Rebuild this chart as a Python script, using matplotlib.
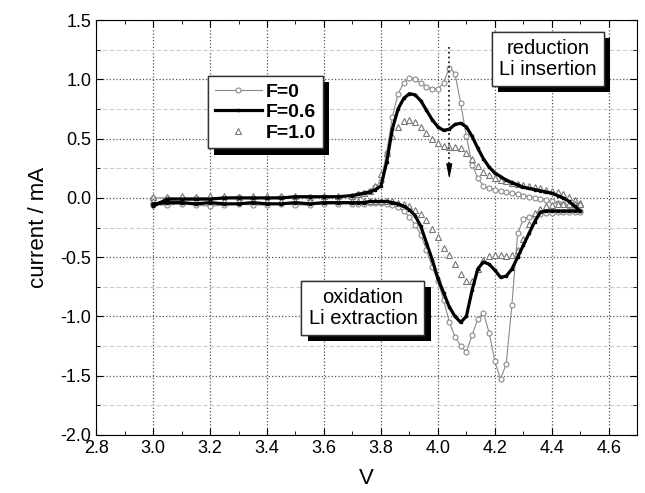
import matplotlib
matplotlib.use("Agg")
import matplotlib.pyplot as plt
import matplotlib.patheffects as pe
from matplotlib.ticker import MultipleLocator
import numpy as np

plt.rcParams['font.family'] = ['Liberation Sans', 'DejaVu Sans']

# voltage sample points (V), shared by both sweep directions
volt = [3.00, 3.05, 3.10, 3.15, 3.20, 3.25, 3.30, 3.35, 3.40, 3.45, 3.50, 3.55, 3.60, 3.65,
        3.70, 3.72, 3.74, 3.76, 3.78, 3.80, 3.82, 3.84, 3.86, 3.88,
        3.90, 3.92, 3.94, 3.96, 3.98, 4.00, 4.02, 4.04, 4.06, 4.08,
        4.10, 4.12, 4.14, 4.16, 4.18, 4.20, 4.22, 4.24, 4.26, 4.28,
        4.30, 4.32, 4.34, 4.36, 4.38, 4.40, 4.42, 4.44, 4.46, 4.48, 4.50]

# current (mA), forward sweep (upper branch)
f0_up = [0.00, 0.00, 0.00, 0.00, 0.00, 0.00, 0.01, 0.00, 0.00, 0.01, 0.01, 0.01, 0.01, 0.01,
         0.02, 0.03, 0.04, 0.06, 0.09, 0.14, 0.38, 0.68, 0.88, 0.97,
         1.01, 1.00, 0.97, 0.94, 0.92, 0.92, 0.97, 1.10, 1.05, 0.80,
         0.52, 0.28, 0.17, 0.10, 0.08, 0.07, 0.06, 0.05, 0.04, 0.03,
         0.02, 0.01, 0.00, -0.01, -0.02, -0.03, -0.04, -0.05, -0.07, -0.09, -0.11]
f06_up = [-0.07, -0.01, -0.01, -0.01, -0.01, 0.00, 0.00, 0.00, 0.00, 0.00, 0.01, 0.01, 0.01, 0.01,
          0.02, 0.03, 0.04, 0.05, 0.07, 0.10, 0.30, 0.58, 0.75, 0.84,
          0.88, 0.87, 0.82, 0.74, 0.66, 0.60, 0.57, 0.58, 0.62, 0.63,
          0.60, 0.52, 0.42, 0.33, 0.26, 0.21, 0.18, 0.15, 0.13, 0.11,
          0.09, 0.08, 0.07, 0.06, 0.05, 0.04, 0.02, 0.00, -0.03, -0.07, -0.11]
f10_up = [0.01, 0.01, 0.02, 0.01, 0.02, 0.02, 0.01, 0.02, 0.02, 0.02, 0.02, 0.01, 0.02, 0.02,
          0.02, 0.03, 0.04, 0.06, 0.10, 0.20, 0.38, 0.52, 0.60, 0.65,
          0.66, 0.64, 0.60, 0.55, 0.50, 0.46, 0.44, 0.43, 0.43, 0.42,
          0.38, 0.33, 0.27, 0.22, 0.19, 0.17, 0.15, 0.14, 0.13, 0.12,
          0.11, 0.10, 0.09, 0.08, 0.07, 0.06, 0.05, 0.03, 0.01, -0.02, -0.04]

# current (mA), reverse sweep (lower branch), listed at the same voltages
f0_dn = [-0.06, -0.06, -0.05, -0.06, -0.07, -0.06, -0.05, -0.06, -0.06, -0.05, -0.06, -0.06, -0.05, -0.05,
         -0.05, -0.05, -0.05, -0.04, -0.04, -0.04, -0.05, -0.06, -0.08, -0.11,
         -0.16, -0.23, -0.31, -0.44, -0.58, -0.70, -0.86, -1.05, -1.17, -1.25,
         -1.30, -1.16, -1.02, -0.97, -1.14, -1.38, -1.53, -1.40, -0.90, -0.30,
         -0.18, -0.16, -0.15, -0.14, -0.13, -0.13, -0.12, -0.12, -0.12, -0.12, -0.12]
f06_dn = [-0.05, -0.04, -0.04, -0.05, -0.04, -0.05, -0.05, -0.04, -0.05, -0.05, -0.04, -0.05, -0.04, -0.04,
          -0.04, -0.04, -0.04, -0.03, -0.03, -0.03, -0.03, -0.04, -0.05, -0.07,
          -0.10, -0.15, -0.24, -0.38, -0.52, -0.68, -0.80, -0.92, -1.00, -1.05,
          -1.00, -0.78, -0.60, -0.54, -0.56, -0.61, -0.67, -0.66, -0.60, -0.50,
          -0.40, -0.30, -0.20, -0.12, -0.11, -0.11, -0.11, -0.11, -0.11, -0.11, -0.11]
f10_dn = [-0.03, -0.03, -0.03, -0.03, -0.03, -0.03, -0.03, -0.03, -0.03, -0.03, -0.03, -0.03, -0.03, -0.03,
          -0.03, -0.03, -0.03, -0.03, -0.03, -0.03, -0.03, -0.03, -0.04, -0.05,
          -0.07, -0.10, -0.14, -0.19, -0.26, -0.33, -0.42, -0.48, -0.56, -0.64,
          -0.70, -0.70, -0.60, -0.52, -0.49, -0.48, -0.48, -0.49, -0.48, -0.44,
          -0.35, -0.22, -0.13, -0.09, -0.07, -0.06, -0.05, -0.05, -0.05, -0.05, -0.05]

labels = ['F=0', 'F=0.6', 'F=1.0']

v = np.array(volt)
vv = np.concatenate([v, v[::-1]])

fig = plt.figure(figsize=(6.45, 4.93), dpi=100)
ax = fig.add_axes([0.149, 0.118, 0.839, 0.841])

l0, = ax.plot(vv, np.concatenate([f0_up, f0_dn[::-1]]), color='#8a8a8a', lw=0.8,
              marker='o', ms=3.6, mfc='white', mec='#8a8a8a', mew=0.8, zorder=3)
l1, = ax.plot(vv, np.concatenate([f06_up, f06_dn[::-1]]), color='black', lw=2.3,
              marker='s', ms=2.0, zorder=4)
l2, = ax.plot(vv, np.concatenate([f10_up, f10_dn[::-1]]), ls='none',
              marker='^', ms=4.2, mfc='white', mec='#777777', mew=0.8, zorder=3)

ax.set_xlim(2.8, 4.7)
ax.set_ylim(-2.0, 1.5)
ax.xaxis.set_major_locator(MultipleLocator(0.2))
ax.xaxis.set_minor_locator(MultipleLocator(0.1))
ax.yaxis.set_major_locator(MultipleLocator(0.5))
ax.yaxis.set_minor_locator(MultipleLocator(0.25))
ax.xaxis.set_major_formatter(lambda x, p: '%.1f' % x)
ax.yaxis.set_major_formatter(lambda x, p: '%.1f' % x)
ax.tick_params(which='both', direction='in', top=True, right=True, labelsize=13)
ax.tick_params(which='major', length=5)
ax.tick_params(which='minor', length=3)

ax.grid(which='major', ls=':', color='#555555', lw=0.9)
ax.yaxis.grid(which='minor', ls=(0, (4, 2)), color='#cccccc', lw=0.8)
ax.set_axisbelow(True)

ax.set_xlabel('V', fontsize=16, labelpad=8)
ax.set_ylabel('current / mA', fontsize=16, labelpad=8)

leg = ax.legend([l0, l1, l2], labels, loc='upper left', bbox_to_anchor=(0.207, 0.865),
                borderaxespad=0, fancybox=False, framealpha=1, edgecolor='#333333',
                prop={'weight': 'bold', 'size': 14}, handlelength=2.4, handletextpad=0.2,
                labelspacing=0.15, borderpad=0.35)
leg.get_frame().set_linewidth(1.0)
leg.get_frame().set_path_effects([pe.withSimplePatchShadow(offset=(4.5, -4.5), shadow_rgbFace='k', alpha=1), pe.Normal()])

box = dict(boxstyle='square,pad=0.35', fc='white', ec='#333333', lw=1.0)
for txt, x, y in [('reduction\nLi insertion', 4.386, 1.174), ('oxidation\nLi extraction', 3.737, -0.93)]:
    t = ax.text(x, y, txt, ha='center', va='center', fontsize=14.5, linespacing=1.15,
                bbox=box, zorder=6)
    t.get_bbox_patch().set_path_effects([pe.withSimplePatchShadow(offset=(4.5, -4.5), shadow_rgbFace='k', alpha=1), pe.Normal()])

# dotted arrow showing the trend with F
ax.plot([4.04, 4.04], [1.27, 0.24], ls=':', color='#222222', lw=1.3, zorder=5)
ax.annotate('', xy=(4.04, 0.135), xytext=(4.04, 0.25),
            arrowprops=dict(arrowstyle='-|>,head_width=0.18,head_length=0.9', color='k', lw=0.8), zorder=5)

fig.savefig('out.png', dpi=100)
